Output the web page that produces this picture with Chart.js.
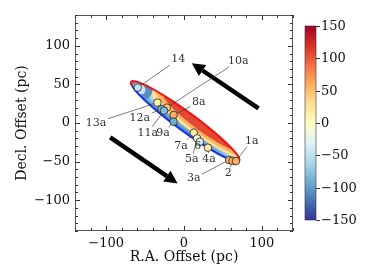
<!DOCTYPE html>
<html>
<head>
<meta charset="utf-8">
<script src="https://cdn.jsdelivr.net/npm/chart.js@4.4.1/dist/chart.umd.min.js"></script>
<style>
  html, body { margin: 0; padding: 0; background: #fff; }
</style>
</head>
<body>
<canvas id="grafica" width="374" height="280"></canvas>
<script>
// datos
const nombres   = ["14", "13a", "10a", "12a", "11a", "8a", "9a", "7a", "5a", "6", "4a", "3a", "2", "1a"];
const ra        = [-59.4, -34.2, -22.1, -29.0, -25.6, -13.4, -13.4, 12.6, 16.9, 20.4, 30.7, 58.0, 62.3, 66.7];
const decl      = [45.9, 26.4, 19.9, 18.2, 16.0, 10.4, 1.7, -12.6, -19.9, -24.3, -32.0, -48.0, -49.0, -49.4];
const velocidad = [-45, 15, 45, -90, -80, 60, -90, 15, -10, -35, 20, 60, 60, 60];

// donde va cada etiqueta (coordenadas de datos)
const etiquetaRa   = [-7.4, -113, 69.7, -56.8, -46.4, 19, -26.9, -3.9, 10, 17.8, 32, 12.6, 56.8, 87];
const etiquetaDecl = [82.7, 0.4, 80.5, 6.1, -12.6, 26.9, -13.4, -29.5, -47.1, -29.9, -47.1, -71.8, -65.3, -23];

const ticksX = [-100, 0, 100];
const ticksY = [-100, -50, 0, 50, 100];
const ticksBarra = [-150, -100, -50, 0, 50, 100, 150];

// modelo del disco: centro, semiejes (pc), angulo (grados)
const centro = [1.5, 2.3];
const semiejes = [86, 12];
const angulo = -36.2;

// flechas: [cola x, cola y, punta x, punta y]
const flechas = [
  [95.7, 19, 10, 77.5],
  [-94.8, -18.6, -8.2, -78.3]
];

const FUENTE = '"DejaVu Serif", serif';

// RdYlBu_r
const paleta = ["#313695", "#4575b4", "#74add1", "#abd9e9", "#e0f3f8", "#ffffbf",
                "#fee090", "#fdae61", "#f46d43", "#d73027", "#a50026"];

function hexARgb(h) {
  return [parseInt(h.slice(1, 3), 16), parseInt(h.slice(3, 5), 16), parseInt(h.slice(5, 7), 16)];
}

function colorDe(v) {
  let t = (v + 150) / 300;
  t = Math.max(0, Math.min(1, t));
  const p = t * (paleta.length - 1);
  const i = Math.min(Math.floor(p), paleta.length - 2);
  const f = p - i;
  const a = hexARgb(paleta[i]), b = hexARgb(paleta[i + 1]);
  const c = a.map((x, k) => Math.round(x + (b[k] - x) * f));
  return `rgb(${c[0]},${c[1]},${c[2]})`;
}

const menos = v => String(v).replace("-", "\u2212");

function dibujarElipse(chart) {
  const { ctx, scales: { x, y } } = chart;
  const cx = x.getPixelForValue(centro[0]);
  const cy = y.getPixelForValue(centro[1]);
  const k = Math.abs(x.getPixelForValue(1) - x.getPixelForValue(0));
  const a = semiejes[0] * k, b = semiejes[1] * k;
  const rot = -angulo * Math.PI / 180;

  ctx.save();
  ctx.translate(cx, cy);
  ctx.rotate(rot);
  ctx.save();
  ctx.beginPath();
  ctx.ellipse(0, 0, a, b, 0, 0, 2 * Math.PI);
  ctx.clip();

  // fondo: naranja arriba, azules abajo
  const g = ctx.createLinearGradient(0, -b, 0, b);
  g.addColorStop(0, "#fdae61");
  g.addColorStop(0.18, "#fee090");
  g.addColorStop(0.35, "#c6e3ef");
  g.addColorStop(0.55, "#abd9e9");
  g.addColorStop(0.78, "#74add1");
  g.addColorStop(1, "#4575b4");
  ctx.fillStyle = g;
  ctx.fillRect(-a, -b, 2 * a, 2 * b);

  // media luna roja en la mitad SE
  const capa = (u, v, ra_, rb_, col) => {
    ctx.beginPath();
    ctx.ellipse(u * a, v * b, ra_ * a, rb_ * b, 0, 0, 2 * Math.PI);
    ctx.fillStyle = col;
    ctx.fill();
  };
  capa(0.15, -0.5, 0.85, 1.0, "#fee090");
  capa(0.2, -0.75, 0.8, 0.95, "#fdae61");
  capa(0.22, -1.0, 0.72, 0.9, "#e34a33");

  // extremo NW azul
  capa(-0.84, 0.0, 0.2, 1.3, "#5b8cc2");
  capa(-0.84, 0.1, 0.1, 0.55, "#c6e3ef");
  ctx.restore();

  // contorno: rojo arriba, azul abajo
  ctx.lineWidth = 2;
  ctx.beginPath();
  ctx.ellipse(0, 0, a, b, 0, 0.9 * Math.PI, 1.95 * Math.PI);
  ctx.strokeStyle = "#ee1111";
  ctx.stroke();
  ctx.beginPath();
  ctx.ellipse(0, 0, a, b, 0, -0.05 * Math.PI, 0.9 * Math.PI);
  ctx.strokeStyle = "#1133ee";
  ctx.stroke();
  ctx.restore();
}

function dibujarFlechas(chart) {
  const { ctx, scales: { x, y } } = chart;
  ctx.save();
  flechas.forEach(f => {
    const x0 = x.getPixelForValue(f[0]), y0 = y.getPixelForValue(f[1]);
    const x1 = x.getPixelForValue(f[2]), y1 = y.getPixelForValue(f[3]);
    const ang = Math.atan2(y1 - y0, x1 - x0);
    const largo = 13, ancho = 6.5;
    const bx = x1 - largo * Math.cos(ang), by = y1 - largo * Math.sin(ang);
    ctx.strokeStyle = "#000";
    ctx.lineWidth = 4.5;
    ctx.beginPath();
    ctx.moveTo(x0, y0);
    ctx.lineTo(bx, by);
    ctx.stroke();
    ctx.fillStyle = "#000";
    ctx.beginPath();
    ctx.moveTo(x1, y1);
    ctx.lineTo(bx + ancho * Math.sin(ang), by - ancho * Math.cos(ang));
    ctx.lineTo(bx - ancho * Math.sin(ang), by + ancho * Math.cos(ang));
    ctx.closePath();
    ctx.fill();
  });
  ctx.restore();
}

function cajaEtiqueta(ctx, i, x, y) {
  const w = ctx.measureText(nombres[i]).width;
  return { lx: x.getPixelForValue(etiquetaRa[i]), ly: y.getPixelForValue(etiquetaDecl[i]), hw: w / 2 + 1.5, hh: 6 };
}

const pluginFondo = {
  id: "fondo",
  beforeDatasetsDraw(chart) {
    const { ctx, chartArea: ca, scales: { x, y } } = chart;
    ctx.save();
    ctx.beginPath();
    ctx.rect(ca.left, ca.top, ca.width, ca.height);
    ctx.clip();
    dibujarElipse(chart);
    dibujarFlechas(chart);

    // lineas guia de las etiquetas
    ctx.font = "11px " + FUENTE;
    ctx.strokeStyle = "#444";
    ctx.lineWidth = 0.7;
    nombres.forEach((n, i) => {
      const c = cajaEtiqueta(ctx, i, x, y);
      const px = x.getPixelForValue(ra[i]), py = y.getPixelForValue(decl[i]);
      const dx = px - c.lx, dy = py - c.ly;
      const t = Math.min(dx !== 0 ? c.hw / Math.abs(dx) : 1e9, dy !== 0 ? c.hh / Math.abs(dy) : 1e9);
      if (t >= 1) return;
      ctx.beginPath();
      ctx.moveTo(c.lx + dx * t, c.ly + dy * t);
      ctx.lineTo(px, py);
      ctx.stroke();
    });
    ctx.restore();
  },
  afterDatasetsDraw(chart) {
    const { ctx, scales: { x, y } } = chart;
    ctx.save();
    ctx.font = "11px " + FUENTE;
    ctx.fillStyle = "#333";
    ctx.textAlign = "center";
    ctx.textBaseline = "middle";
    nombres.forEach((n, i) => {
      const c = cajaEtiqueta(ctx, i, x, y);
      ctx.fillText(n, c.lx, c.ly);
    });
    ctx.restore();
  },
  afterDraw(chart) {
    const { ctx, chartArea: ca, scales: { x, y } } = chart;
    ctx.save();
    // marco
    ctx.strokeStyle = "#555";
    ctx.lineWidth = 1;
    ctx.strokeRect(ca.left + 0.5, ca.top + 0.5, ca.width - 1, ca.height - 1);

    // marcas hacia dentro en los cuatro lados
    ctx.strokeStyle = "#333";
    for (let v = -140; v <= 140; v += 20) {
      const px = Math.round(x.getPixelForValue(v)) + 0.5;
      const l = v % 100 === 0 ? 5 : 3;
      ctx.beginPath();
      ctx.moveTo(px, ca.bottom); ctx.lineTo(px, ca.bottom - l);
      ctx.moveTo(px, ca.top); ctx.lineTo(px, ca.top + l);
      ctx.stroke();
    }
    for (let v = -140; v <= 140; v += 10) {
      const py = Math.round(y.getPixelForValue(v)) + 0.5;
      const l = v % 50 === 0 ? 5 : 3;
      ctx.beginPath();
      ctx.moveTo(ca.left, py); ctx.lineTo(ca.left + l, py);
      ctx.moveTo(ca.right, py); ctx.lineTo(ca.right - l, py);
      ctx.stroke();
    }

    // titulos de ejes
    ctx.fillStyle = "#111";
    ctx.font = "14px " + FUENTE;
    ctx.textAlign = "center";
    ctx.textBaseline = "middle";
    ctx.fillText("R.A. Offset (pc)", (ca.left + ca.right) / 2, 257);
    ctx.save();
    ctx.translate(22, (ca.top + ca.bottom) / 2);
    ctx.rotate(-Math.PI / 2);
    ctx.fillText("Decl. Offset (pc)", 0, 0);
    ctx.restore();

    // barra de color
    const bx = 305, bw = 11, top = 26, bot = 220;
    const g = ctx.createLinearGradient(0, bot, 0, top);
    paleta.forEach((c, i) => g.addColorStop(i / (paleta.length - 1), c));
    ctx.fillStyle = g;
    ctx.fillRect(bx, top, bw, bot - top);
    ctx.strokeStyle = "#333";
    ctx.lineWidth = 0.6;
    ctx.strokeRect(bx, top, bw, bot - top);
    ctx.font = "13px " + FUENTE;
    ctx.textAlign = "left";
    ctx.fillStyle = "#111";
    ctx.lineWidth = 1;
    ticksBarra.forEach(v => {
      const py = Math.round(bot - (v + 150) / 300 * (bot - top)) + 0.5;
      ctx.beginPath();
      ctx.moveTo(bx + bw, py); ctx.lineTo(bx + bw + 4, py);
      ctx.stroke();
      ctx.fillText(menos(v), bx + bw + 5, py);
    });
    ctx.restore();
  }
};

new Chart(document.getElementById("grafica"), {
  type: "scatter",
  data: {
    datasets: [{
      data: ra.map((v, i) => ({ x: v, y: decl[i] })),
      pointRadius: 3.8,
      pointBackgroundColor: velocidad.map(colorDe),
      pointBorderColor: "#222",
      pointBorderWidth: 0.8
    }]
  },
  options: {
    responsive: false,
    animation: false,
    devicePixelRatio: 1,
    layout: { padding: { left: 0, right: 81, top: 15, bottom: 0 } },
    plugins: { legend: { display: false }, tooltip: { enabled: false } },
    scales: {
      x: {
        type: "linear", min: -140, max: 140,
        afterBuildTicks: s => { s.ticks = ticksX.map(v => ({ value: v })); },
        afterFit: s => { s.height = 49; },
        grid: { display: false, drawTicks: false },
        border: { display: false },
        ticks: { padding: 5, color: "#111", font: { family: FUENTE, size: 13 }, callback: v => menos(v) }
      },
      y: {
        type: "linear", min: -140, max: 140,
        afterBuildTicks: s => { s.ticks = ticksY.map(v => ({ value: v })); },
        afterFit: s => { s.width = 75; },
        grid: { display: false, drawTicks: false },
        border: { display: false },
        ticks: { padding: 5, color: "#111", font: { family: FUENTE, size: 13 }, callback: v => menos(v) }
      }
    }
  },
  plugins: [pluginFondo]
});
</script>
</body>
</html>
